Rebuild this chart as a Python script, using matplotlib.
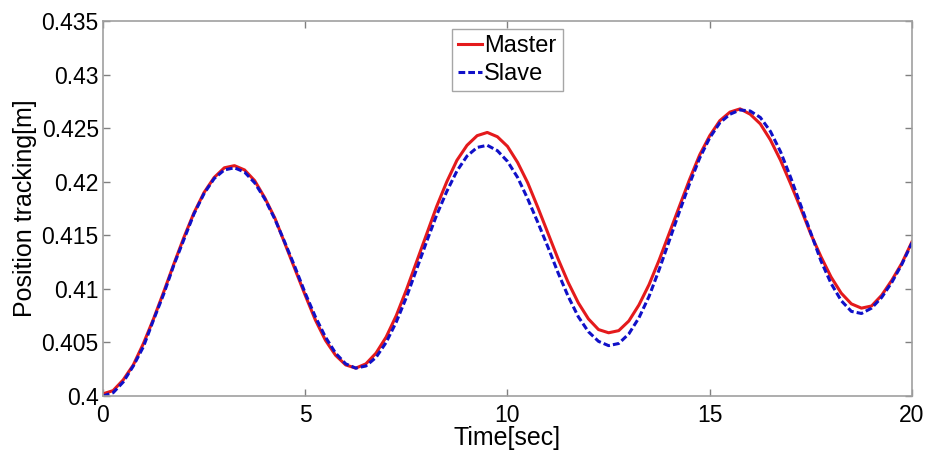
import matplotlib.pyplot as plt

plt.rcParams["font.family"] = ["Liberation Sans", "DejaVu Sans"]

# time samples [sec], every 0.25 s
time = [i * 0.25 for i in range(81)]

master = [
    0.4002, 0.4005, 0.4015, 0.4029, 0.4049, 0.4072, 0.4097, 0.4123, 0.4148, 0.4171,
    0.4190, 0.4204, 0.4213, 0.4215, 0.4211, 0.4201, 0.4185, 0.4166, 0.4142, 0.4118,
    0.4094, 0.4071, 0.4052, 0.4038, 0.4029, 0.4026, 0.4030, 0.4040, 0.4055, 0.4075,
    0.4099, 0.4125, 0.4151, 0.4177, 0.4200, 0.4220, 0.4234, 0.4243, 0.4246, 0.4242,
    0.4233, 0.4218, 0.4199, 0.4176, 0.4152, 0.4128, 0.4106, 0.4087, 0.4072, 0.4062,
    0.4059, 0.4061, 0.4070, 0.4085, 0.4104, 0.4127, 0.4152, 0.4177, 0.4202, 0.4225,
    0.4243, 0.4257, 0.4265, 0.4268, 0.4263, 0.4254, 0.4239, 0.4220, 0.4198, 0.4175,
    0.4151, 0.4130, 0.4111, 0.4096, 0.4086, 0.4082, 0.4084, 0.4094, 0.4108, 0.4124,
    0.4144]

slave = [
    0.4000, 0.4003, 0.4013, 0.4028, 0.4046, 0.4071, 0.4095, 0.4122, 0.4146, 0.4170,
    0.4189, 0.4203, 0.4211, 0.4213, 0.4209, 0.4199, 0.4184, 0.4165, 0.4143, 0.4120,
    0.4096, 0.4074, 0.4055, 0.4040, 0.4030, 0.4026, 0.4028, 0.4036, 0.4050, 0.4069,
    0.4092, 0.4118, 0.4144, 0.4169, 0.4191, 0.4210, 0.4224, 0.4232, 0.4234, 0.4229,
    0.4219, 0.4204, 0.4184, 0.4162, 0.4139, 0.4115, 0.4093, 0.4074, 0.4060, 0.4051,
    0.4047, 0.4049, 0.4058, 0.4073, 0.4093, 0.4118, 0.4145, 0.4172, 0.4198, 0.4222,
    0.4241, 0.4255, 0.4263, 0.4267, 0.4266, 0.4260, 0.4247, 0.4228, 0.4204, 0.4178,
    0.4152, 0.4126, 0.4105, 0.4089, 0.4079, 0.4077, 0.4082, 0.4092, 0.4106, 0.4123,
    0.4143]

x_ticks = [0, 5, 10, 15, 20]
y_ticks = [0.4, 0.405, 0.41, 0.415, 0.42, 0.425, 0.43, 0.435]
y_labels = ["0.4", "0.405", "0.41", "0.415", "0.42", "0.425", "0.43", "0.435"]

fig = plt.figure(figsize=(9.31, 4.55), dpi=100)
ax = fig.add_axes([0.1106, 0.1297, 0.869, 0.8241])

ax.plot(time, master, color="#e41a1c", lw=2.2, label="Master")
ax.plot(time, slave, color="#1010c8", lw=2.2, ls=(0, (2.2, 1.0)), label="Slave")

ax.set_xlim(0, 20)
ax.set_ylim(0.4, 0.435)
ax.set_xticks(x_ticks)
ax.set_yticks(y_ticks)
ax.set_yticklabels(y_labels)

for side in ax.spines.values():
    side.set_color("#a0a0a0")
    side.set_linewidth(1.2)
ax.tick_params(direction="in", length=5, width=1, color="#808080",
               top=True, right=True, labelsize=16.5, pad=3)
ax.tick_params(axis="x", pad=6)

ax.set_xlabel("Time[sec]", fontsize=18, labelpad=-1)
ax.set_ylabel("Position tracking[m]", fontsize=18, labelpad=3)

leg = ax.legend(loc="upper center", bbox_to_anchor=(0.5, 0.99), fontsize=17,
                frameon=True, fancybox=False, handlelength=1.0, handletextpad=0.1,
                borderpad=0.25, labelspacing=0.25, borderaxespad=0.2)
leg.get_frame().set_edgecolor("#909090")
leg.get_frame().set_linewidth(1.0)

fig.savefig("out.png", dpi=100)
